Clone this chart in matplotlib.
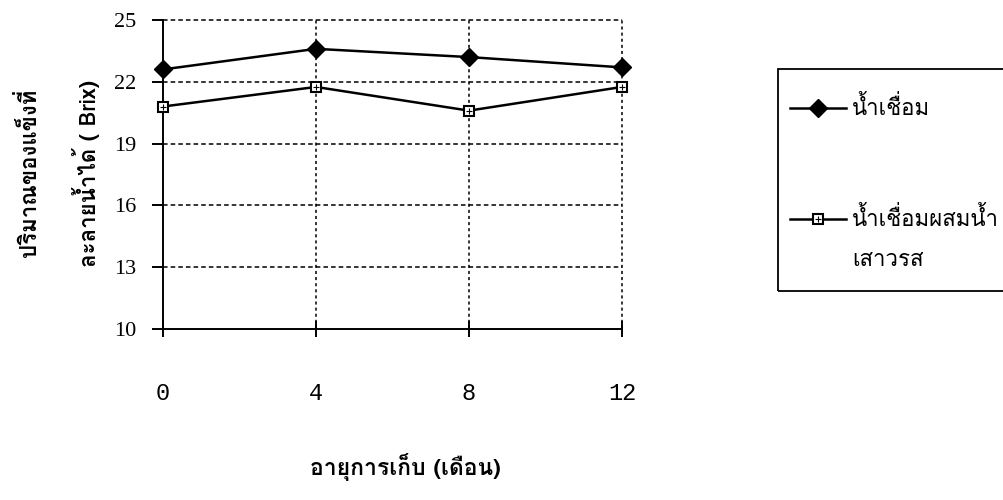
import matplotlib
matplotlib.use("Agg")
import matplotlib.pyplot as plt
from matplotlib.lines import Line2D
from matplotlib.patches import Rectangle

months = [0, 4, 8, 12]
syrup = [22.6, 23.6, 23.2, 22.7]
syrup_passion = [20.8, 21.75, 20.6, 21.75]
y_ticks = [10, 13, 16, 19, 22, 25]
x_tick_labels = ["0", "4", "8", "12"]
series_labels = ["น้ำเชื่อม", "น้ำเชื่อมผสมน้ำ\nเสาวรส"]
x_label = "อายุการเก็บ (เดือน)"
y_label = "ปริมาณของแข็งที่\nละลายน้ำได้ ( Brix)"

THAI = ["Loma", "Noto Sans Thai Looped", "DejaVu Sans"]

W, H = 1004, 500
fig = plt.figure(figsize=(W / 100, H / 100), dpi=100)
x0, x1, y0, y1 = 163, 622, 20, 329
ax = fig.add_axes([x0 / W, 1 - y1 / H, (x1 - x0) / W, (y1 - y0) / H])

styles = [
    dict(marker="D", ms=9, mfc="black", mec="black", mew=1.0),
    dict(marker="s", ms=7.5, mfc="white", mec="black", mew=1.5),
]
ax.plot(months, syrup, color="black", lw=1.8, clip_on=False, zorder=5, **styles[0])
ax.plot(months, syrup_passion, color="black", lw=1.8, clip_on=False, zorder=5, **styles[1])
ax.plot(months, syrup_passion, ls="none", marker="+", ms=4, mec="black",
        mew=0.8, clip_on=False, zorder=6)

ax.set_xlim(0, 12)
ax.set_ylim(10, 25)
ax.set_xticks(months)
ax.set_xticklabels(x_tick_labels, family="Liberation Mono", fontsize=17)
ax.set_yticks(y_ticks)
ax.set_yticklabels([str(v) for v in y_ticks], family="Liberation Serif", fontsize=16)

for s in ["top", "right"]:
    ax.spines[s].set_visible(False)
for s in ["left", "bottom"]:
    ax.spines[s].set_linewidth(1.4)

ax.tick_params(axis="y", direction="out", length=8, width=1.4, pad=11)
ax.tick_params(axis="x", direction="inout", length=11, width=1.4, pad=33)

for v in y_ticks[1:]:
    ax.axhline(v, color="black", lw=1.1, ls=(0, (3, 2)), clip_on=False, zorder=1)
for v in months[1:]:
    ax.axvline(v, color="black", lw=1.1, ls=(0, (2, 2)), clip_on=False, zorder=1)

fig.text(405 / W, 1 - 467 / H, x_label, family=THAI, fontsize=16.5,
         fontweight="bold", ha="center", va="center")
fig.text(58 / W, 1 - 173 / H, y_label, family=THAI, fontsize=16,
         fontweight="bold", ha="center", va="center", rotation=90,
         linespacing=2.3, multialignment="center")

# legend box drawn in figure pixel coordinates
def fx(px):
    return px / W

def fy(py):
    return 1 - py / H

fig.patches.append(Rectangle((fx(778), fy(291)), fx(1010) - fx(778), fy(69) - fy(291),
                             transform=fig.transFigure, fill=False,
                             edgecolor="black", lw=1.3, clip_on=False))
entry_y = [108, 219]
for st, ey, lab in zip(styles, entry_y, series_labels):
    fig.add_artist(Line2D([fx(790), fx(846)], [fy(ey), fy(ey)], color="black",
                          lw=1.8, transform=fig.transFigure))
    fig.add_artist(Line2D([fx(818)], [fy(ey)], color="black", ls="none",
                          transform=fig.transFigure, **st))
    lines = lab.split("\n")
    for i, ln in enumerate(lines):
        fig.text(fx(852), fy(ey + 41 * i), ln, family=THAI, fontsize=16,
                 ha="left", va="center")
fig.add_artist(Line2D([fx(818)], [fy(entry_y[1])], ls="none", marker="+", ms=4,
                      mec="black", mew=0.8, transform=fig.transFigure))

fig.savefig("out.png", dpi=100)
